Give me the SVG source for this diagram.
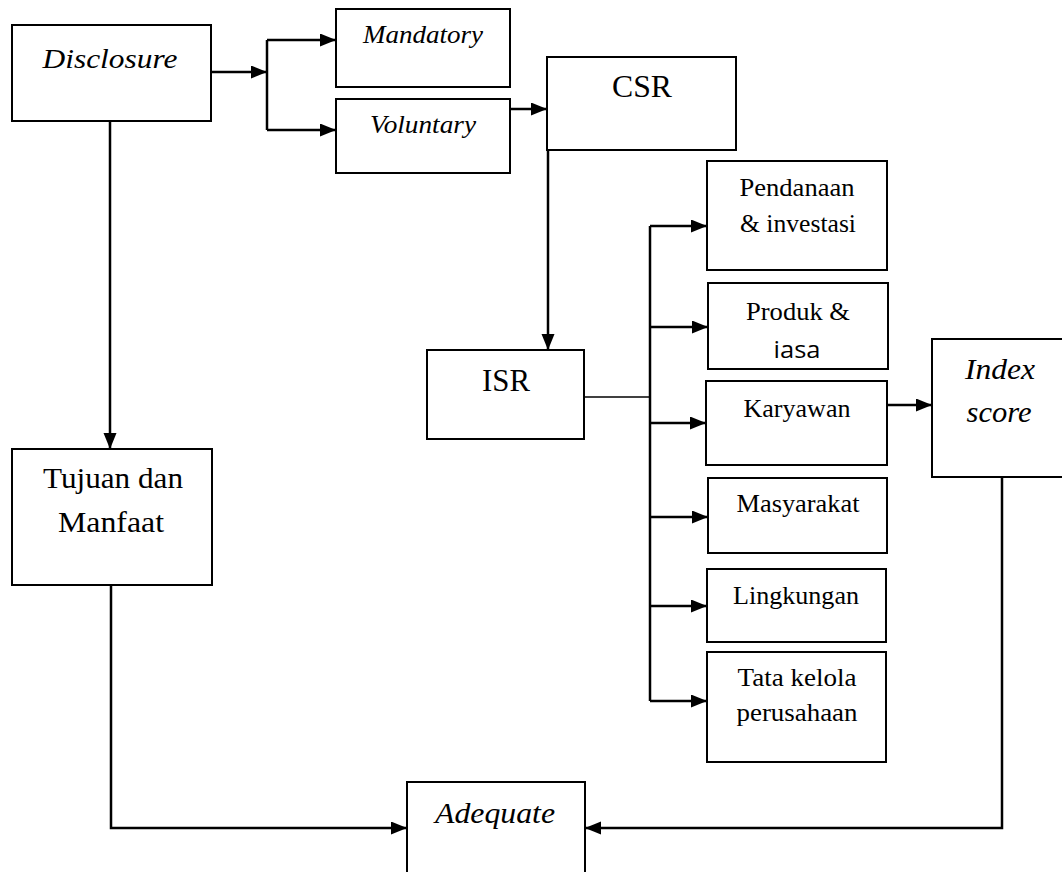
<svg xmlns="http://www.w3.org/2000/svg" width="1062" height="872" viewBox="0 0 1062 872">
<defs>
<marker id="arr" markerUnits="userSpaceOnUse" markerWidth="17" markerHeight="14" refX="16" refY="6.5" orient="auto">
<path d="M0,0 L16,6.5 L0,13 z" fill="#000"/>
</marker>
<style>
.box{fill:#fff;stroke:#000;stroke-width:2}
.t{font-family:"Liberation Serif","Times New Roman",serif;fill:#000;text-anchor:middle}
.i{font-style:italic}
.c{fill:none;stroke:#000;stroke-width:2.5}
.thin{fill:none;stroke:#000;stroke-width:1.5}
</style>
</defs>
<rect width="1062" height="872" fill="#fff"/>
<g id="connectors">
<path class="c" d="M211,72 H267" marker-end="url(#arr)"/>
<path class="c" d="M267,40 V130"/>
<path class="c" d="M267,40 H336" marker-end="url(#arr)"/>
<path class="c" d="M267,130 H336" marker-end="url(#arr)"/>
<path class="c" d="M510,109 H547" marker-end="url(#arr)"/>
<path class="c" d="M548,150 V350" marker-end="url(#arr)"/>
<path class="c" d="M110,121 V449" marker-end="url(#arr)"/>
<path class="thin" d="M584,397 H650"/>
<path class="c" d="M650,226 V701"/>
<path class="c" d="M650,226 H707" marker-end="url(#arr)"/>
<path class="c" d="M650,327 H708" marker-end="url(#arr)"/>
<path class="c" d="M650,423 H706" marker-end="url(#arr)"/>
<path class="c" d="M650,517 H708" marker-end="url(#arr)"/>
<path class="c" d="M650,606 H707" marker-end="url(#arr)"/>
<path class="c" d="M650,701 H707" marker-end="url(#arr)"/>
<path class="c" d="M887,405 H932" marker-end="url(#arr)"/>
<path class="c" d="M1002,477 V828 H585" marker-end="url(#arr)"/>
<path class="c" d="M111,585 V828 H407" marker-end="url(#arr)"/>
</g>
<g id="disclosure"><rect class="box" x="12" y="25" width="199" height="96"/><text class="t i" x="110" y="68" font-size="27" textLength="135" lengthAdjust="spacingAndGlyphs">Disclosure</text></g>
<g id="mandatory"><rect class="box" x="336" y="9" width="174" height="78"/><text class="t i" x="423" y="43" font-size="25" textLength="120" lengthAdjust="spacingAndGlyphs">Mandatory</text></g>
<g id="voluntary"><rect class="box" x="336" y="99" width="174" height="74"/><text class="t i" x="423" y="133" font-size="25" textLength="106" lengthAdjust="spacingAndGlyphs">Voluntary</text></g>
<g id="csr"><rect class="box" x="547" y="57" width="189" height="93"/><text class="t" x="642" y="97" font-size="31" textLength="60" lengthAdjust="spacingAndGlyphs">CSR</text></g>
<g id="isr"><rect class="box" x="427" y="350" width="157" height="89"/><text class="t" x="506" y="391" font-size="31" textLength="48" lengthAdjust="spacingAndGlyphs">ISR</text></g>
<g id="pendanaan"><rect class="box" x="707" y="161" width="180" height="109"/><text class="t" x="797" y="196" font-size="26" textLength="115" lengthAdjust="spacingAndGlyphs">Pendanaan</text><text class="t" x="798" y="232" font-size="26" textLength="116" lengthAdjust="spacingAndGlyphs">&amp; investasi</text></g>
<g id="produk"><rect class="box" x="708" y="283" width="180" height="86"/><text class="t" x="798" y="320" font-size="26" textLength="104" lengthAdjust="spacingAndGlyphs">Produk &amp;</text><text x="797" y="358" font-family="'Open Sans','Liberation Sans',sans-serif" font-size="24" text-anchor="middle" textLength="47" lengthAdjust="spacingAndGlyphs">iasa</text></g>
<g id="karyawan"><rect class="box" x="706" y="381" width="181" height="84"/><text class="t" x="797" y="417" font-size="26" textLength="107" lengthAdjust="spacingAndGlyphs">Karyawan</text></g>
<g id="masyarakat"><rect class="box" x="708" y="478" width="179" height="75"/><text class="t" x="798" y="512" font-size="26" textLength="123" lengthAdjust="spacingAndGlyphs">Masyarakat</text></g>
<g id="lingkungan"><rect class="box" x="707" y="569" width="179" height="73"/><text class="t" x="796" y="604" font-size="26" textLength="126" lengthAdjust="spacingAndGlyphs">Lingkungan</text></g>
<g id="tatakelola"><rect class="box" x="707" y="652" width="179" height="110"/><text class="t" x="797" y="686" font-size="26" textLength="119" lengthAdjust="spacingAndGlyphs">Tata kelola</text><text class="t" x="797" y="721" font-size="26" textLength="121" lengthAdjust="spacingAndGlyphs">perusahaan</text></g>
<g id="indexscore"><rect class="box" x="932" y="339" width="140" height="138"/><text class="t i" x="1000" y="379" font-size="30" textLength="70" lengthAdjust="spacingAndGlyphs">Index</text><text class="t i" x="999" y="422" font-size="30" textLength="65" lengthAdjust="spacingAndGlyphs">score</text></g>
<g id="tujuan"><rect class="box" x="12" y="449" width="200" height="136"/><text class="t" x="113" y="488" font-size="30" textLength="140" lengthAdjust="spacingAndGlyphs">Tujuan dan</text><text class="t" x="111" y="532" font-size="30" textLength="106" lengthAdjust="spacingAndGlyphs">Manfaat</text></g>
<g id="adequate"><rect class="box" x="407" y="782" width="178" height="100"/><text class="t i" x="495" y="823" font-size="30" textLength="120" lengthAdjust="spacingAndGlyphs">Adequate</text></g>
</svg>
